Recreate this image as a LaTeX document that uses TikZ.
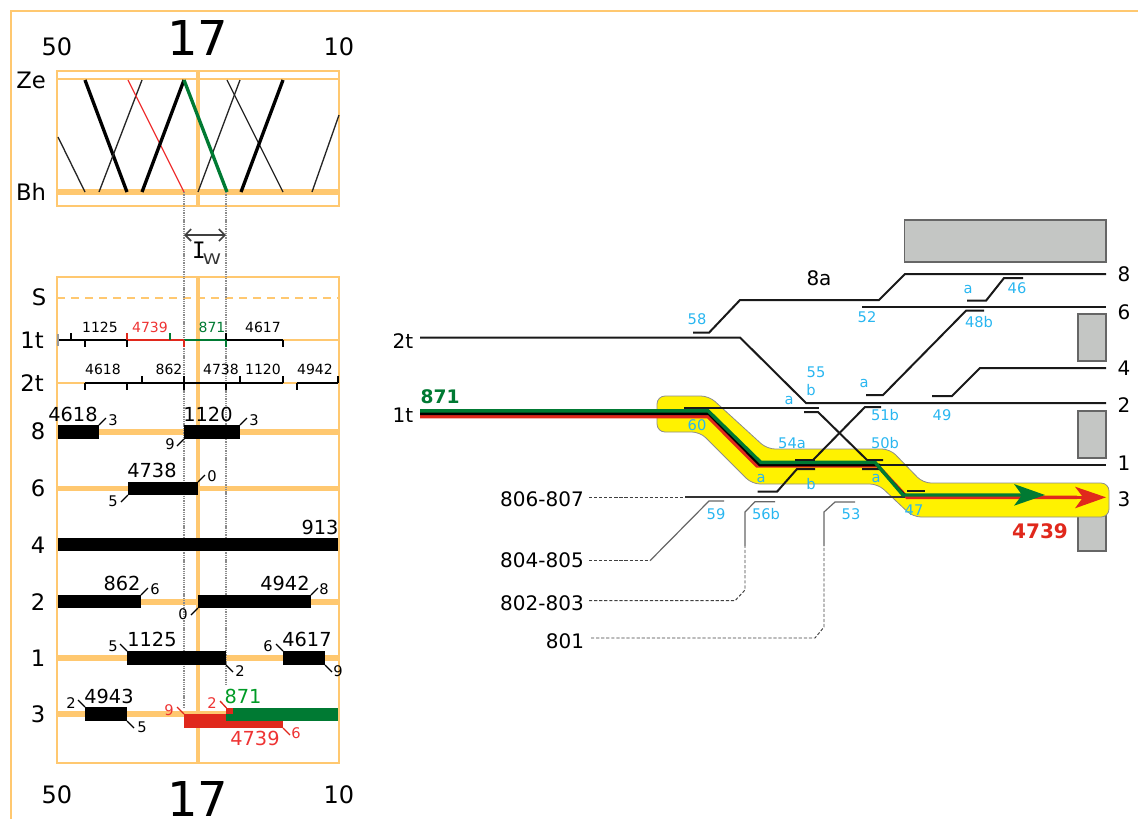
\documentclass[tikz,border=0pt]{standalone}
\usetikzlibrary{arrows.meta}
\usepackage{fontspec}
\setmainfont{DejaVu Sans}
\newfontfamily\monof{DejaVu Sans Mono}
\definecolor{orng}{HTML}{FFC870}
\definecolor{blu}{HTML}{29B6F0}
\definecolor{grn}{HTML}{007A33}
\definecolor{rd}{HTML}{E0281C}
\definecolor{txtrd}{HTML}{EE3333}
\definecolor{gbox}{HTML}{C4C6C4}
\tikzset{
 orthin/.style={draw=orng,line width=1.9pt},
 ormid/.style={draw=orng,line width=3.8pt},
 trk/.style={draw=black!90,line width=1.5pt},
 thinl/.style={draw=black!85,line width=1pt},
 thickl/.style={draw=black,line width=2.5pt},
 barb/.style={fill=black},
 tick/.style={draw=black,line width=1pt},
 small/.style={inner sep=0pt,font=\fontsize{11}{11}\selectfont},
 mini/.style={inner sep=0pt,font=\fontsize{10.5}{11}\selectfont},
 num/.style={inner sep=0pt,font=\fontsize{18}{18}\selectfont},
 rowl/.style={inner sep=0pt,font=\fontsize{17}{17}\selectfont},
 rlab/.style={inner sep=0pt,font=\fontsize{15}{15}\selectfont},
 blab/.style={inner sep=0pt,text=blu,font=\fontsize{11}{11}\selectfont},
 graybox/.style={fill=gbox,draw=black!60,line width=0.8pt},
 dott/.style={draw=black!45,line width=1pt,dash pattern=on 1pt off 0.7pt},
 dsh/.style={draw=black!75,line width=0.7pt,dash pattern=on 2.4pt off 1.4pt},
 sol/.style={draw=black!60,line width=0.9pt},
}
\begin{document}
\begin{tikzpicture}[x=0.75pt,y=-0.75pt]
\useasboundingbox (0,0) rectangle (1138,819);
% outer frame
\draw[orthin,line width=1.4pt] (1138,11) -- (11,11) -- (11,819);
% top box
\draw[orthin] (57,71) rectangle (339,206);
\draw[orthin] (57,79) -- (339,79);
\draw[ormid,line width=4.8pt] (57,192) -- (339,192);
\draw[ormid,line width=3.2pt] (198,71) -- (198,206);
% graph
\draw[thinl] (58,137) -- (85,192);
\draw[thickl] (85,80) -- (127,192);
\draw[thinl] (142,80) -- (99,192);
\draw[draw=txtrd,line width=1pt] (128,80) -- (184,192);
\draw[thickl] (184,80) -- (142,192);
\draw[thinl] (240,80) -- (198,192);
\draw[thinl] (227,80) -- (283,192);
\draw[thickl] (283,80) -- (241,192);
\draw[thinl] (339,115) -- (312,192);
\draw[draw=grn,line width=2.5pt] (184,80) -- (227,192);
% lower box
\draw[orthin] (57,277) rectangle (339,763);
\draw[ormid,line width=3.2pt] (198,277) -- (198,763);
\draw[draw=orng,line width=1.5pt,dash pattern=on 6pt off 4.5pt] (57,298) -- (339,298);
\draw[orthin] (57,340) -- (339,340);
\draw[orthin] (57,383) -- (339,383);
\foreach \y in {432,488.5,545,602,658,714} \draw[ormid] (57,\y) -- (339,\y);
% dotted guides
\draw[dott] (184,192) -- (184,708);
\draw[dott] (226,192) -- (226,686);
% bars
\fill[barb] (58,425) rectangle (99,439);
\fill[barb] (184,425) rectangle (240,439);
\fill[barb] (128,482) rectangle (198,495);
\fill[barb] (58,538) rectangle (338,551);
\fill[barb] (58,595) rectangle (141,608);
\fill[barb] (198,595) rectangle (311,608);
\fill[barb] (127,651) rectangle (226,665);
\fill[barb] (283,651) rectangle (325,665);
\fill[barb] (85,707) rectangle (127,721);
\fill[rd] (184,714) rectangle (283,728);
\fill[rd] (226,708) rectangle (233,714);
\fill[grn] (233,707.5) rectangle (338,721);
\fill[grn] (226,714) rectangle (233,721);
% bar ticks
\draw[tick] (99,425) -- (106,418);
\draw[tick] (240,425) -- (247,418);
\draw[tick] (184,439) -- (177,446);
\draw[tick] (198,482) -- (205,475);
\draw[tick] (128,495) -- (121,502);
\draw[tick] (141,595) -- (148,588);
\draw[tick] (311,595) -- (318,588);
\draw[tick] (198,608) -- (191,615);
\draw[tick] (127,651) -- (120,644);
\draw[tick] (226,665) -- (233,672);
\draw[tick] (283,651) -- (276,644);
\draw[tick] (325,665) -- (332,672);
\draw[tick] (85,707) -- (78,700);
\draw[tick] (127,721) -- (134,728);
\draw[tick,draw=rd] (184,714) -- (177,707);
\draw[tick,draw=rd] (226.5,708) -- (220,701);
\draw[tick,draw=rd] (283,728) -- (290,735);
% 1t row
\draw[tick] (58,340) -- (127,340);
\draw[tick,draw=rd] (127,340) -- (184,340);
\draw[tick,draw=grn] (184,340) -- (226,340);
\draw[tick] (226,340) -- (283,340);
\draw[tick,draw=black!40] (58,334) -- (58,346);
\draw[tick] (71,333) -- (71,340);
\draw[tick] (85,340) -- (85,347);
\draw[tick] (127,340) -- (127,347);
\draw[tick,draw=rd] (127,333) -- (127,340);
\draw[tick,draw=grn] (170,333) -- (170,340);
\draw[tick,draw=rd] (184,340) -- (184,347);
\draw[tick] (226,333) -- (226,340);
\draw[tick,draw=grn] (226,340) -- (226,347);
\draw[tick] (283,340) -- (283,347);
% 2t row
\draw[tick] (85,383) -- (283,383);
\draw[tick] (297,383) -- (338,383);
\foreach \x in {85,127,226,297} \draw[tick] (\x,383) -- (\x,390);
\foreach \x in {142,240,283,338} \draw[tick] (\x,383) -- (\x,376);
\draw[tick] (184,376) -- (184,390);
% left labels
\node[num] (t50) at (57,47) {50};
\node[inner sep=0pt,font=\fontsize{36}{36}\selectfont] (t17) at (198,38) {17};
\node[num] (t10) at (339,47) {10};
\node[num] (b50) at (57,795) {50};
\node[inner sep=0pt,font=\fontsize{36}{36}\selectfont] (b17) at (198,799) {17};
\node[num] (b10) at (339,795) {10};
\node[rowl] (Ze) at (31,80) {Ze};
\node[rowl] (Bh) at (31,192) {Bh};
\node[rowl] (S) at (39,297) {S};
\node[rowl] (ot) at (32,340) {1t};
\node[rowl] (tt) at (32,383) {2t};
\node[rowl] (r8) at (38,431) {8};
\node[rowl] (r6) at (38,488) {6};
\node[rowl] (r4) at (38,545) {4};
\node[rowl] (r2) at (38,602) {2};
\node[rowl] (r1) at (38,658) {1};
\node[rowl] (r3) at (38,714) {3};
% interval
\draw[draw=black!75,line width=1.2pt,{Straight Barb[length=4.5pt,width=9pt]}-{Straight Barb[length=4.5pt,width=9pt]}] (184,235) -- (226,235);
\node[inner sep=0pt,font=\monof\fontsize{17}{17}\selectfont] (iv) at (199,250) {I};
\node[inner sep=0pt,text=black!80,font=\fontsize{11}{11}\selectfont,xscale=1.25] (ivs) at (212,259) {W};
% 1t / 2t labels
\foreach \t/\x/\c in {1125/100/black,4739/150/txtrd,871/212/grn,4617/263/black}
  \node[mini,text=\c] at (\x,327.5) {\t};
\foreach \t/\x in {4618/103,862/169,4738/221,1120/263,4942/315}
  \node[mini] at (\x,369.5) {\t};
% bar labels
\foreach \t/\x/\y in {4618/73/414,1120/208/414,4738/152/470,913/320/527,862/122/583,4942/285/583,1125/152/639,4617/307/639,4943/109/696}
  \node[inner sep=0pt,font=\fontsize{14.5}{15}\selectfont] at (\x,\y) {\t};
\foreach \t/\x/\y in {3/113/420,3/254/420,9/170/444,0/212/476,5/113/501,6/155/589,8/324/589,0/183/614,5/113/646,2/240/671,6/268/646,9/338/671,2/71/703,5/142/727}
  \node[small] at (\x,\y) {\t};
\node[small,text=txtrd] at (169,710) {9};
\node[small,text=txtrd] at (212,703) {2};
\node[small,text=txtrd] at (296,733) {6};
\node[inner sep=0pt,text=grn!75!green,font=\fontsize{14.5}{15}\selectfont] at (243,696) {871};
\node[inner sep=0pt,text=txtrd,font=\fontsize{14.5}{15}\selectfont] at (255,738) {4739};
% ---------- right panel ----------
\draw[graybox] (904.5,220) rectangle (1106,262);
\draw[graybox] (1078,314) rectangle (1106,361);
\draw[graybox] (1078,411) rectangle (1106,458);
\draw[graybox] (1078,505) rectangle (1106,551);
% yellow band
\draw[draw=black!45,line width=0.6pt,fill=yellow,rounded corners=6pt]
 (657,396) -- (709,396) -- (767,449) -- (890,449) -- (923,483) -- (1109,483) -- (1109,517) -- (913,517) -- (878,484) -- (752,484) -- (700,432) -- (657,432) -- cycle;
% tracks
\draw[trk] (693,332.7) -- (709,332.7) -- (740,300) -- (879,300) -- (905,274) -- (1106,274);
\draw[trk] (862,306.7) -- (1106,306.7);
\draw[trk] (967,300.7) -- (986,300.7) -- (1004,278) -- (1023,278);
\draw[trk] (866,395) -- (883,395) -- (966,310.7) -- (984,310.7);
\draw[trk] (932,396) -- (952,396) -- (980,368) -- (1106,368);
\draw[trk] (420,337.5) -- (740,337.5) -- (806,403) -- (1106,403);
\draw[trk] (684,408) -- (819,408);
\draw[trk] (804,412) -- (818,412) -- (867,460) -- (883,460);
\draw[trk] (881,407) -- (865,407) -- (813,460) -- (795,460);
\draw[trk] (757.7,491.7) -- (777,491.7) -- (797,469) -- (815,469);
% coloured route
\draw[draw=rd,line width=2.6pt] (420,416.7) -- (708,416.7) -- (757,466) -- (878,466) -- (907,497.3) -- (1077,497.3);
\draw[draw=black,line width=2.2pt] (420,413.7) -- (709,413.7) -- (760,465) -- (880,465);
\draw[trk] (880,465) -- (1106,465);
\draw[trk] (862,469) -- (880,469) -- (905,495);
\draw[draw=black!80,line width=0.9pt] (685,497) -- (905,497);
\draw[draw=grn,line width=2.6pt] (420,410.8) -- (708,410.8) -- (760.7,462.3) -- (875,462.3) -- (903,495) -- (1023,495);
\fill[rd] (1075,486.7) -- (1106,497.3) -- (1075,508.3) -- (1083,497.3) -- cycle;
\draw[draw=rd,line width=2.6pt] (1045,497.3) -- (1084,497.3);
\fill[grn] (1014,484) -- (1045,495) -- (1014,505.7) -- (1022,495) -- cycle;
\draw[trk] (907,491) -- (925,491);
\draw[trk] (795,460) -- (815,460);
\draw[trk] (867,460) -- (883,460);
% lower lines
\draw[dsh] (589,497) -- (685,497);
\draw[dsh] (589,560.7) -- (650,560.7);
\draw[sol] (650,560.7) -- (709,501) -- (724,501);
\draw[dsh] (589,600.7) -- (735,600.7) -- (745,590) -- (745,546);
\draw[sol] (745,546) -- (745,512) -- (755,501.7) -- (775,501.7);
\draw[dsh] (591,638) -- (815,638) -- (824,627) -- (824,546);
\draw[sol] (824,546) -- (824,512) -- (835,502) -- (855,502);
% right labels
\foreach \t/\x/\y in {8/1124/274,6/1124/312,4/1124/368,2/1124/405,1/1124/463,3/1124/499}
  \node[rlab] at (\x,\y) {\t};
\node[rlab] at (819,278) {8a};
\node[rlab] at (403,341) {2t};
\node[rlab] at (403,415) {1t};
\node[rlab] at (542,499) {806-807};
\node[rlab] at (542,560) {804-805};
\node[rlab] at (542,603) {802-803};
\node[rlab] at (565,641) {801};
\node[inner sep=0pt,text=grn,font=\bfseries\fontsize{14}{14}\selectfont] at (440,397) {871};
\node[inner sep=0pt,text=rd,font=\bfseries\fontsize{15}{15}\selectfont] at (1040,531) {4739};
% blue labels
\foreach \t/\x/\y in {58/697/319,52/867/317,a/968/289,46/1017/288,48b/979/322,55/816/372,b/811/390,a/789/400,a/864/383,51b/885/415,49/942/415,60/697/425,54a/792/443,50b/885/443,a/761/478,b/811/484,a/876/478,59/716/514,56b/766/514,53/851/514,47/914/510}
  \node[blab] at (\x,\y) {\t};
\end{tikzpicture}
\end{document}
